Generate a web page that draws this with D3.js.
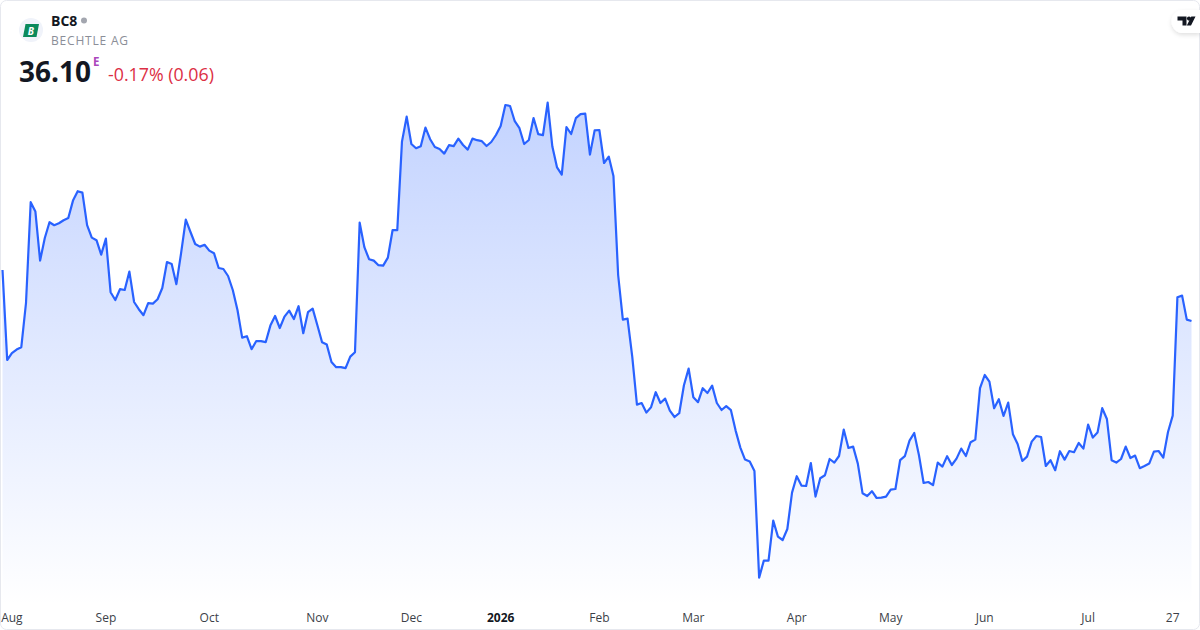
<!DOCTYPE html>
<html>
<head>
<meta charset="utf-8">
<script src="https://cdn.jsdelivr.net/npm/d3@7"></script>
<style>
  html, body { margin: 0; padding: 0; background: #fff; }
  svg { display: block; font-family: "Open Sans", sans-serif; }
</style>
</head>
<body>
<div id="chart"></div>
<script>
// closing prices, one per session
var prices = [
  38.65, 34.15, 34.49, 34.67, 34.79, 37.00, 42.04, 41.57, 39.12, 40.25,
  41.04, 40.89, 40.99, 41.14, 41.25, 42.12, 42.59, 42.52, 40.89, 40.27,
  40.14, 39.42, 40.22, 37.54, 37.15, 37.69, 37.65, 38.57, 37.05, 36.69,
  36.39, 36.99, 36.97, 37.19, 37.75, 39.05, 38.95, 37.94, 39.49, 41.17,
  40.55, 39.95, 39.82, 39.91, 39.62, 39.49, 38.75, 38.70, 38.35, 37.65,
  36.65, 35.27, 35.34, 34.69, 35.10, 35.09, 35.04, 35.87, 36.35, 35.75,
  36.32, 36.62, 36.20, 36.84, 35.49, 36.54, 36.72, 35.89, 35.04, 34.92,
  34.05, 33.79, 33.79, 33.74, 34.32, 34.54, 41.02, 39.79, 39.19, 39.12,
  38.89, 38.87, 39.27, 40.64, 40.64, 45.07, 46.32, 44.95, 44.74, 44.84,
  45.77, 45.19, 44.80, 44.70, 44.47, 44.89, 44.84, 45.22, 44.90, 44.67,
  45.22, 45.14, 45.09, 44.85, 45.05, 45.40, 45.85, 46.90, 46.85, 46.09,
  45.74, 44.95, 45.15, 46.25, 45.44, 45.39, 47.02, 44.82, 43.78, 43.42,
  45.80, 45.45, 46.24, 46.44, 46.47, 44.42, 45.63, 45.65, 44.00, 44.32,
  43.35, 38.40, 36.17, 36.22, 34.32, 31.92, 32.00, 31.52, 31.79, 32.54,
  32.00, 32.22, 31.62, 31.30, 31.49, 32.89, 33.72, 32.29, 32.04, 32.74,
  32.50, 32.87, 32.00, 31.65, 31.84, 31.64, 30.62, 29.77, 29.17, 29.07,
  28.60, 23.27, 24.12, 24.12, 26.12, 25.32, 25.15, 25.70, 27.52, 28.34,
  27.87, 27.85, 29.00, 27.32, 28.24, 28.39, 29.20, 29.02, 29.35, 30.67,
  29.75, 29.82, 28.97, 27.49, 27.35, 27.59, 27.25, 27.27, 27.32, 27.67,
  27.70, 29.14, 29.34, 30.12, 30.50, 29.40, 28.00, 28.05, 27.89, 29.02,
  28.82, 29.34, 28.90, 29.22, 29.72, 29.35, 30.04, 30.17, 32.74, 33.40,
  33.07, 31.74, 32.19, 31.35, 32.02, 30.44, 29.95, 29.10, 29.32, 30.07,
  30.35, 30.30, 28.85, 29.14, 28.64, 29.59, 29.17, 29.60, 29.54, 30.00,
  29.72, 30.92, 30.27, 30.52, 31.74, 31.20, 29.14, 29.02, 29.20, 29.82,
  29.25, 29.37, 28.74, 28.85, 28.97, 29.57, 29.60, 29.27, 30.55, 31.37,
  37.29, 37.37, 36.17, 36.10
];

// session index of each label on the time axis
var tickLabels = ['Aug', 'Sep', 'Oct', 'Nov', 'Dec', '2026', 'Feb', 'Mar', 'Apr', 'May', 'Jun', 'Jul', '27'];
var tickSessions = [2, 22, 44, 67, 87, 106, 127, 147, 169, 189, 209, 231, 249];

var width = 1200, height = 630;

var svg = d3.select('#chart')
  .append('svg')
  .attr('width', width)
  .attr('height', height);

var xScale = d3.scaleLinear().domain([0, prices.length - 1]).range([2.5, 1191.5]);
var yScale = d3.scaleLinear().domain([47.05, 23.25]).range([102, 578]);

var defs = svg.append('defs');

var grad = defs.append('linearGradient')
  .attr('id', 'area-fill')
  .attr('gradientUnits', 'userSpaceOnUse')
  .attr('x1', 0).attr('x2', 0)
  .attr('y1', 102).attr('y2', 606);
grad.append('stop').attr('offset', '0%').attr('stop-color', '#2962ff').attr('stop-opacity', 0.28);
grad.append('stop').attr('offset', '100%').attr('stop-color', '#2962ff').attr('stop-opacity', 0);

var shadow = defs.append('filter')
  .attr('id', 'tab-shadow')
  .attr('x', '-30%').attr('y', '-30%').attr('width', '160%').attr('height', '180%');
shadow.append('feDropShadow')
  .attr('dx', 0).attr('dy', 2).attr('stdDeviation', 2)
  .attr('flood-color', '#000').attr('flood-opacity', 0.12);

// area and line
var area = d3.area()
  .x((d, i) => xScale(i))
  .y0(606)
  .y1(d => yScale(d));

var line = d3.line()
  .x((d, i) => xScale(i))
  .y(d => yScale(d));

svg.append('path')
  .datum(prices)
  .attr('d', area)
  .attr('fill', 'url(#area-fill)');

svg.append('path')
  .datum(prices)
  .attr('d', line)
  .attr('fill', 'none')
  .attr('stroke', '#2962ff')
  .attr('stroke-width', 2.2)
  .attr('stroke-linejoin', 'round');

// time axis
var xAxis = d3.axisBottom(xScale)
  .tickValues(tickSessions)
  .tickSize(0)
  .tickFormat((d, i) => tickLabels[i]);

var axisG = svg.append('g')
  .attr('transform', 'translate(-0.5,607)')
  .call(xAxis);
axisG.select('.domain').remove();
axisG.selectAll('text')
  .attr('y', 6)
  .attr('dy', '0.71em')
  .style('font-family', '"Open Sans", sans-serif')
  .style('font-size', '12px')
  .style('font-weight', d => d === 106 ? 700 : 400)
  .style('fill', d => d === 106 ? '#131722' : '#3c3f48');

// frame
svg.append('rect')
  .attr('x', 0.5).attr('y', 0.5)
  .attr('width', width - 1).attr('height', height - 1)
  .attr('rx', 6)
  .attr('fill', 'none')
  .attr('stroke', '#e6e8ee');

// header
var head = svg.append('g');

head.append('circle').attr('cx', 31).attr('cy', 30).attr('r', 12).attr('fill', '#f0f3fa');
head.append('path').attr('d', 'M25.5 24H39L36.5 37H23Z').attr('fill', '#0a8a5c');
head.append('text')
  .attr('x', 30.8).attr('y', 34.5)
  .attr('text-anchor', 'middle')
  .attr('fill', '#fff')
  .style('font-size', '10px').style('font-weight', 700).style('font-style', 'italic')
  .text('B');

head.append('text')
  .attr('x', 51).attr('y', 26)
  .attr('fill', '#131722')
  .style('font-size', '14px').style('font-weight', 700)
  .text('BC8');
head.append('circle').attr('cx', 84).attr('cy', 20.5).attr('r', 3).attr('fill', '#a3a6af');

head.append('text')
  .attr('x', 51).attr('y', 45)
  .attr('fill', '#8b8e98')
  .style('font-size', '12px').style('letter-spacing', '0.8px')
  .text('BECHTLE AG');

head.append('text')
  .attr('x', 19).attr('y', 82)
  .attr('fill', '#131722')
  .style('font-size', '28px').style('font-weight', 700)
  .text('36.10');
head.append('text')
  .attr('x', 93).attr('y', 66)
  .attr('fill', '#ab47bc')
  .style('font-size', '11.5px').style('font-weight', 700)
  .text('E');
head.append('text')
  .attr('x', 108).attr('y', 81)
  .attr('fill', '#dc2f45')
  .style('font-size', '17.8px')
  .text('-0.17% (0.06)');

// logo tab, top right
var tab = svg.append('g');
tab.append('path')
  .attr('d', 'M1200 10H1183A11.5 11.5 0 0 0 1171.5 21.5A11.5 11.5 0 0 0 1183 33H1200Z')
  .attr('fill', '#fff')
  .attr('filter', 'url(#tab-shadow)');
tab.append('path')
  .attr('d', 'M1177.5 16.5H1186.5V25.5H1182.5V20.5H1177.5Z M1195.5 16.5L1191 25.5H1186.8L1191.3 16.5Z')
  .attr('fill', '#131722');
tab.append('circle').attr('cx', 1189).attr('cy', 18.6).attr('r', 2.1).attr('fill', '#131722');
</script>
</body>
</html>
